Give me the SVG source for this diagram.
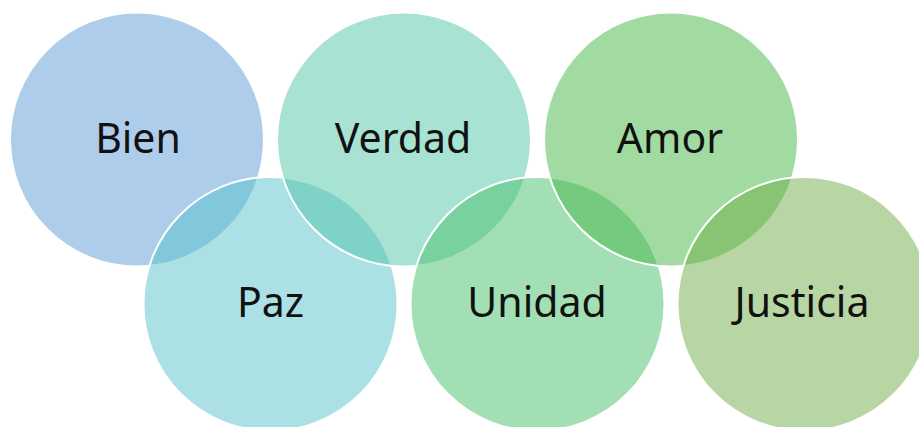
<svg xmlns="http://www.w3.org/2000/svg" width="919" height="427" viewBox="0 0 919 427">
<style>
.c{stroke:#ffffff;stroke-width:2;}
.t{font-family:"Noto Sans","Open Sans",sans-serif;font-size:41px;fill:#111111;text-anchor:middle;}
</style>
<rect width="919" height="427" fill="#ffffff"/>
<g id="bien"><circle class="c" cx="137" cy="139.5" r="127" fill="rgba(91,155,213,0.5)"/><text class="t" x="138" y="153">Bien</text></g>
<g id="paz"><circle class="c" cx="270.5" cy="304" r="127" fill="rgba(87,193,203,0.5)"/><text class="t" x="270.5" y="317">Paz</text></g>
<g id="verdad"><circle class="c" cx="404" cy="139.5" r="127" fill="rgba(81,197,167,0.5)"/><text class="t" x="403" y="153">Verdad</text></g>
<g id="unidad"><circle class="c" cx="537.5" cy="304" r="127" fill="rgba(71,191,107,0.5)"/><text class="t" x="537" y="317">Unidad</text></g>
<g id="amor"><circle class="c" cx="671" cy="139.5" r="127" fill="rgba(69,183,69,0.5)"/><text class="t" x="670" y="153">Amor</text></g>
<g id="justicia"><circle class="c" cx="804.5" cy="304" r="127" fill="rgba(112,173,71,0.5)"/><text class="t" x="802" y="317">Justicia</text></g>
<g id="connectors"></g>
</svg>
